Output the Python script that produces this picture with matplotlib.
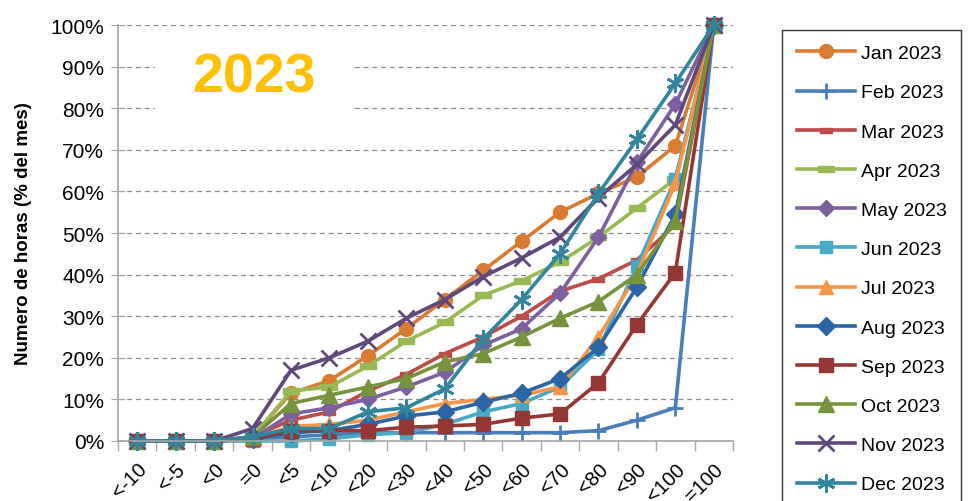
import matplotlib
matplotlib.use('Agg')
import matplotlib.pyplot as plt
from matplotlib.patches import Rectangle
import numpy as np

plt.rcParams['font.family'] = ['Liberation Sans', 'DejaVu Sans']

# Categories (temperature bins) and cumulative % of hours per month
categories = ['<-10', '<-5', '<0', '=0', '<5', '<10', '<20', '<30', '<40',
              '<50', '<60', '<70', '<80', '<90', '<100', '=100']

jan = [0, 0, 0, 1, 11.5, 14.5, 20.5, 27, 34, 41, 48, 55, 59.5, 63.5, 71, 100]
feb = [0, 0, 0, 0.5, 1, 1.5, 2, 2, 2, 2, 2, 2, 2.5, 5, 8, 100]
mar = [0, 0, 0, 1, 5, 7, 12, 16, 21, 25, 30, 36, 39, 43.5, 52, 100]
apr = [0, 0, 0, 1, 12, 13, 18, 24, 28.5, 35, 38.5, 43, 49, 56, 63, 100]
may = [0, 0, 0, 0.5, 6.5, 8, 10, 13, 16.5, 23, 27, 35.5, 49, 67, 81, 100]
jun = [0, 0, 0, 0, 0, 0.5, 1.5, 2, 4, 7, 9, 13, 22, 42, 63, 100]
jul = [0, 0, 0, 0.5, 3.5, 4, 5, 7, 9, 10, 11, 13, 25, 40, 62, 100]
aug = [0, 0, 0, 0.5, 2, 2.5, 4, 6, 7, 9.3, 11.5, 15, 22.5, 37, 54.5, 100]
sep = [0, 0, 0, 0.5, 2.5, 2.5, 2.5, 3.3, 3.6, 4, 5.5, 6.5, 14, 28, 40.5, 100]
oct_ = [0, 0, 0, 1, 9, 11, 13, 15, 19, 21, 25, 29.5, 33.5, 40, 53, 100]
nov = [0, 0, 0, 3, 17, 20, 24, 29.5, 34, 39.5, 44, 49, 58.5, 66.5, 76, 100]
dec = [0, 0, 0, 1, 3, 3, 7, 8, 12.5, 24.5, 34, 45, 59.5, 72.5, 86, 100]

labels = ['Jan 2023', 'Feb 2023', 'Mar 2023', 'Apr 2023', 'May 2023', 'Jun 2023',
          'Jul 2023', 'Aug 2023', 'Sep 2023', 'Oct 2023', 'Nov 2023', 'Dec 2023']
series = [jan, feb, mar, apr, may, jun, jul, aug, sep, oct_, nov, dec]

# Excel-like dash marker (short horizontal bar)
dash = [(-1, -0.45), (1, -0.45), (1, 0.45), (-1, 0.45), (-1, -0.45)]

styles = [
    ('#DA7B32', 'o', 10),
    ('#4A7EBB', '+', 11),
    ('#BE4B48', dash, 8),
    ('#98B954', dash, 11),
    ('#7D60A0', 'D', 8.5),
    ('#46AAC5', 's', 9),
    ('#F79646', '^', 9.5),
    ('#2C65A5', 'D', 9),
    ('#953735', 's', 10.5),
    ('#77933C', '^', 11),
    ('#5F497A', 'x', 12),
    ('#31859C', (6, 2, 0), 13),
]

fig = plt.figure(figsize=(9.72, 5.02), dpi=100)
ax = fig.add_axes([118 / 972, 60 / 502, 615 / 972, 416 / 502])

x = np.arange(len(categories))
for vals, lab, (col, mk, ms) in zip(series, labels, styles):
    ax.plot(x, vals, color=col, lw=2.6, marker=mk, ms=ms, mfc=col, mec=col,
            mew=2 if mk in ('+', 'x') or isinstance(mk, tuple) else 1,
            label=lab, clip_on=False)

ax.set_xlim(-0.5, len(categories) - 0.5)
ax.set_ylim(0, 100)
ax.set_yticks(np.arange(0, 101, 10))
ax.set_yticklabels([f'{v}%' for v in range(0, 101, 10)], fontsize=15)
ax.set_xticks(x)
ax.set_xticklabels(categories, rotation=45, ha='right', va='top',
                   rotation_mode='anchor', fontsize=14.5)
ax.set_xticks(np.arange(-0.5, len(categories), 1), minor=True)
ax.tick_params(axis='x', which='major', length=0, pad=13)
ax.tick_params(axis='x', which='minor', length=7, color='#A6A6A6', width=1)
ax.tick_params(axis='y', direction='inout', length=10, color='#A6A6A6', pad=5)

ax.grid(axis='y', linestyle=(0, (4, 3)), color='#8C8C8C', lw=0.9)
ax.set_axisbelow(True)
for s in ['top', 'right']:
    ax.spines[s].set_visible(False)
for s in ['left', 'bottom']:
    ax.spines[s].set_color('#A6A6A6')
    ax.spines[s].set_linewidth(1.2)

ax.set_ylabel('Numero de horas (% del mes)', fontsize=13.5, fontweight='bold',
              labelpad=13)

# white patch behind the year label, covering part of the gridlines
ax.add_patch(Rectangle((0.06, 0.762), 0.322, 0.204, transform=ax.transAxes,
                       facecolor='white', edgecolor='none', zorder=1.5))
ax.text(0.221, 0.839, '2023', transform=ax.transAxes, fontsize=40,
        fontweight='bold', color='#FFC000', ha='center', va='baseline',
        zorder=5)

leg = ax.legend(loc='upper left', bbox_to_anchor=(782 / 972, 1 - 31 / 502),
                bbox_transform=fig.transFigure, fontsize=14, frameon=True,
                fancybox=False, edgecolor='black', handlelength=3.0,
                labelspacing=1.11, borderpad=0.75, handletextpad=0.3,
                borderaxespad=0)
leg.get_frame().set_linewidth(1)

fig.savefig('out.png', dpi=100)
